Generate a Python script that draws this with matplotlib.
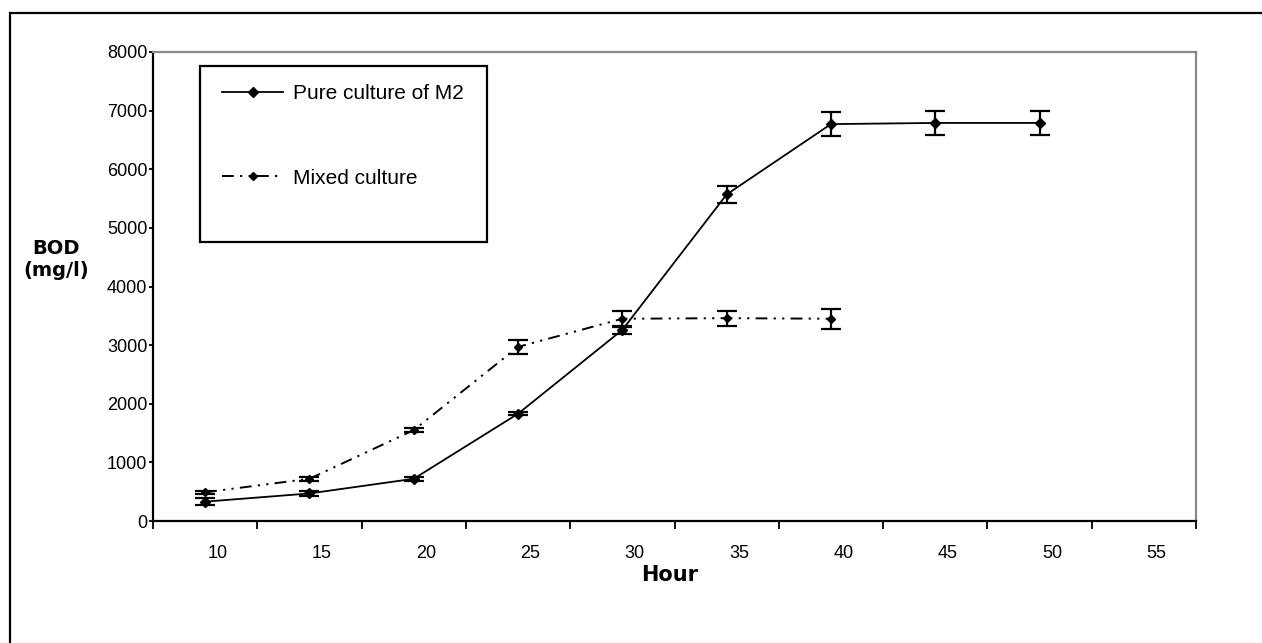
import numpy as np
import matplotlib
matplotlib.use("Agg")
import matplotlib.pyplot as plt
from matplotlib.patches import Rectangle

plt.rcParams['font.family'] = ['Liberation Sans', 'DejaVu Sans']
plt.rcParams['lines.scale_dashes'] = False

# ---- data ----
hour_labels = ['10', '15', '20', '25', '30', '35', '40', '45', '50', '55']
pure_values = [330, 470, 720, 1830, 3260, 5570, 6770, 6790, 6790]
pure_errors = [60, 40, 30, 30, 70, 140, 200, 210, 210]
mixed_values = [490, 720, 1550, 2970, 3450, 3460, 3450]
mixed_errors = [30, 30, 40, 120, 140, 130, 170]
yticks = [0, 1000, 2000, 3000, 4000, 5000, 6000, 7000, 8000]

W, H = 1262, 643
fig = plt.figure(figsize=(W / 100, H / 100), dpi=100)
fig.patch.set_facecolor('white')

# outer frame (right/bottom edges fall outside the picture)
fig.patches.append(Rectangle((10 / W, -0.2), 1.5, (1 - 13 / H) + 0.2, fill=False,
                             ec='black', lw=1.6, transform=fig.transFigure))

ax = fig.add_axes([153 / W, 1 - 521 / H, (1196 - 153) / W, (521 - 52) / H])

xp = np.arange(len(pure_values))
xm = np.arange(len(mixed_values))

line_p, = ax.plot(xp, pure_values, color='black', lw=1.3, marker='D', ms=5.5,
                  label='Pure culture of M2', zorder=3)
ax.errorbar(xp, pure_values, yerr=pure_errors, fmt='none', ecolor='black',
            elinewidth=1.6, capsize=7.5, capthick=1.6, zorder=3)

dash = (0, (8.5, 4.5, 1.6, 4.5, 1.6, 4.5))
line_m, = ax.plot(xm, mixed_values, color='black', lw=1.4, ls=dash, marker='D',
                  ms=4.5, label='Mixed culture', zorder=3)
ax.errorbar(xm, mixed_values, yerr=mixed_errors, fmt='none', ecolor='black',
            elinewidth=1.6, capsize=7.5, capthick=1.6, zorder=3)

ax.set_xlim(-0.5, len(hour_labels) - 0.5)
ax.set_ylim(0, 8000)

# category boundaries as major ticks, labels as minor ticks
ax.set_xticks(np.arange(-0.5, len(hour_labels), 1.0))
ax.set_xticklabels([])
ax.set_xticks(np.arange(len(hour_labels)) + 0.12, minor=True)
ax.set_xticklabels(hour_labels, minor=True)
ax.tick_params(axis='x', which='major', direction='out', length=6, width=1.3, color='black')
ax.tick_params(axis='x', which='minor', length=0, pad=17, labelsize=13)

ax.set_yticks(yticks)
ax.set_yticklabels([str(v) for v in yticks])
ax.tick_params(axis='y', direction='out', length=3, width=1.3, pad=1, labelsize=13)

for s in ['left', 'bottom']:
    ax.spines[s].set_color('black')
    ax.spines[s].set_linewidth(1.6)
for s in ['top', 'right']:
    ax.spines[s].set_color('#8a8a8a')
    ax.spines[s].set_linewidth(1.6)

ax.set_ylabel('BOD\n(mg/l)', rotation=0, fontsize=14, fontweight='bold',
              family=['DejaVu Sans'], ha='center', va='center',
              multialignment='center', linespacing=1.2)
ax.yaxis.set_label_coords((56 - 153) / (1196 - 153), (521 - 259) / (521 - 52))
ax.set_xlabel('Hour', fontsize=15, fontweight='bold', family=['DejaVu Sans'], va='center')
ax.xaxis.set_label_coords((670 - 153) / (1196 - 153), (521 - 575) / (521 - 52))

# legend frame and legend
fig.patches.append(Rectangle((200 / W, 1 - 242 / H), 287 / W, 176 / H, fill=False,
                             ec='black', lw=1.6, transform=fig.transFigure, zorder=5))
ax.legend(handles=[line_p, line_m], loc='upper left',
          bbox_to_anchor=(222 / W, 1 - 84 / H), bbox_transform=fig.transFigure,
          frameon=False, borderpad=0, borderaxespad=0, fontsize=15,
          handlelength=2.95, handletextpad=0.45, labelspacing=3.15)

fig.savefig('out.png', dpi=100, facecolor='white')
